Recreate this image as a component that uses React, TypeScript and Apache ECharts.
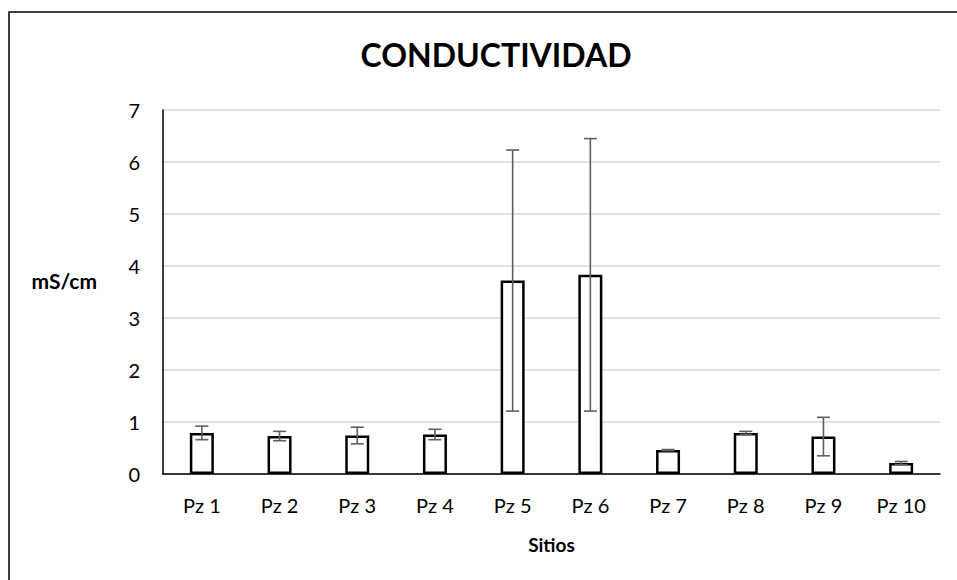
import React, { useEffect, useRef } from "react";
import * as echarts from "echarts";

const categories = ["Pz 1", "Pz 2", "Pz 3", "Pz 4", "Pz 5", "Pz 6", "Pz 7", "Pz 8", "Pz 9", "Pz 10"];
const means = [0.79, 0.73, 0.74, 0.76, 3.72, 3.83, 0.46, 0.79, 0.72, 0.21];
const errors = [0.13, 0.09, 0.16, 0.1, 2.51, 2.62, 0.01, 0.03, 0.37, 0.03];
const yTicks = [0, 1, 2, 3, 4, 5, 6, 7];

const FONT = "Lato, 'Open Sans', sans-serif";

export default function App() {
  const ref = useRef<HTMLDivElement>(null);
  useEffect(() => {
    if (!ref.current) return;
    const chart = echarts.init(ref.current, null, { renderer: "svg" });
    const errData = means.map((m, i) => [i, m - errors[i], m + errors[i]]);
    chart.setOption({
      animation: false,
      backgroundColor: "#ffffff",
      textStyle: { fontFamily: FONT },
      title: {
        text: "CONDUCTIVIDAD",
        left: 491,
        textAlign: "center",
        top: 33,
        textStyle: { fontFamily: FONT, fontSize: 32, fontWeight: "bold", color: "#000" },
      },
      graphic: [
        {
          type: "rect",
          shape: { x: 9, y: 12, width: 960, height: 600 },
          style: { fill: "none", stroke: "#000", lineWidth: 1.5 },
          silent: true,
        },
        {
          type: "text",
          x: 97,
          y: 280,
          style: {
            text: "mS/cm",
            fontFamily: FONT,
            fontSize: 21,
            fontWeight: "bold",
            fill: "#000",
            align: "right",
            verticalAlign: "middle",
          },
        },
      ],
      grid: { left: 163, right: 17, top: 110, bottom: 106 },
      xAxis: {
        type: "category",
        data: categories,
        name: "Sitios",
        nameLocation: "middle",
        nameGap: 61,
        nameTextStyle: { fontFamily: FONT, fontSize: 19, fontWeight: "bold", color: "#000" },
        axisLine: { lineStyle: { color: "#000", width: 1.5 } },
        axisTick: { show: false },
        axisLabel: { fontFamily: FONT, fontSize: 20, color: "#000", margin: 21 },
      },
      yAxis: {
        type: "value",
        min: yTicks[0],
        max: yTicks[yTicks.length - 1],
        interval: 1,
        axisLine: { show: true, lineStyle: { color: "#000", width: 1.5 } },
        axisTick: { show: false },
        axisLabel: { fontFamily: FONT, fontSize: 20, color: "#000", margin: 23 },
        splitLine: { lineStyle: { color: "#d9d9d9", width: 1.5 } },
      },
      series: [
        {
          type: "bar",
          data: means,
          barWidth: 24,
          itemStyle: { color: "#ffffff", borderColor: "#000", borderWidth: 2.5 },
        },
        {
          type: "custom",
          data: errData,
          z: 5,
          renderItem: (params: any, api: any) => {
            const x = api.value(0);
            const lo = api.coord([x, api.value(1)]);
            const hi = api.coord([x, api.value(2)]);
            const hw = 6.5;
            const style = { stroke: "#5f5f5f", lineWidth: 1.6 };
            return {
              type: "group",
              children: [
                { type: "line", shape: { x1: lo[0], y1: lo[1], x2: hi[0], y2: hi[1] }, style },
                { type: "line", shape: { x1: hi[0] - hw, y1: hi[1], x2: hi[0] + hw, y2: hi[1] }, style },
                { type: "line", shape: { x1: lo[0] - hw, y1: lo[1], x2: lo[0] + hw, y2: lo[1] }, style },
              ],
            };
          },
        },
      ],
    });
    return () => chart.dispose();
  }, []);
  return (
    <div
      ref={ref}
      style={{ position: "fixed", left: 0, top: 0, width: 957, height: 580 }}
    />
  );
}
